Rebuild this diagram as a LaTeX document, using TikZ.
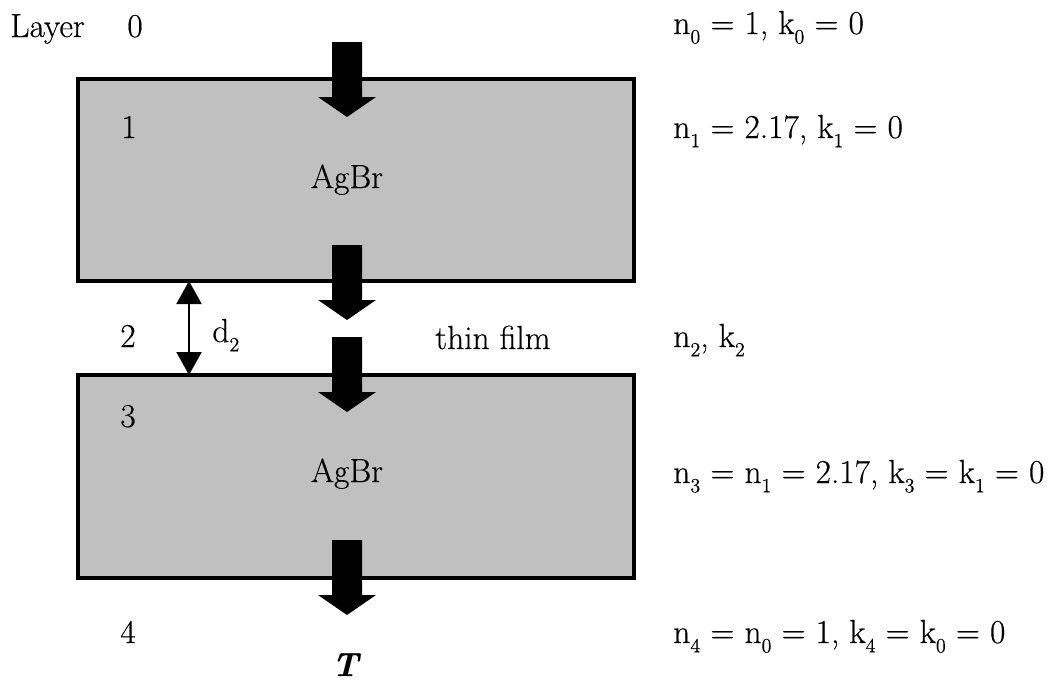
\documentclass[tikz,border=0pt]{standalone}
\usepackage{fontspec}
\newfontfamily\platefont{Latin Modern Roman}[FakeBold=0.4]
\usetikzlibrary{arrows.meta}
\definecolor{slabgray}{RGB}{192,192,192}
\newcommand{\lowr}[1]{\raisebox{-0.28em}{\fontsize{11.5}{12}\selectfont #1}}
\tikzset{
  txt/.style={font=\platefont\fontsize{19}{23}\selectfont,inner sep=0pt,anchor=base west},
  ctxt/.style={txt,anchor=base},
  slab/.style={draw=black,line width=0.8mm,fill=slabgray,inner sep=0pt,outer sep=0pt,
    minimum width=111.2mm,minimum height=#1},
  slab/.default=40.4mm,
  gap/.style={{Triangle[length=4.6mm,width=5mm]}-{Triangle[length=4.6mm,width=5mm]},line width=0.4mm},
  % pictograms
  pics/beam/.style={code={
    \fill[black] (-15,0) -- (15,0) -- (15,55) -- (29,55) -- (0,75) -- (-29,55) -- (-15,55) -- cycle;
  }},
}
\begin{document}
\begin{tikzpicture}[x=0.2mm,y=-0.2mm]
  \useasboundingbox (0,0) rectangle (1053,682);
  % slabs
  \node[slab] (top) at (356,180) {};
  \node[slab=40.6mm] (low) at (356,476.5) {};
  % light path
  \pic at (347,42) {beam};
  \pic at (347,245) {beam};
  \pic at (347,337) {beam};
  \pic at (347,540) {beam};
  \draw[gap] ([xshift=22.2mm]top.south west) -- ([xshift=22.2mm]low.north west);
  % left labels
  \node[txt] (layer) at (10,37) {Layer};
  \node[txt] (l0) at (127,37) {0};
  \node[txt] (l1) at (121,138) {1};
  \node[txt] (l2) at (120,347) {2};
  \node[txt] (l3) at (120,427) {3};
  \node[txt] (l4) at (120,643) {4};
  \node[txt] (d2) at (212,342) {d\lowr{2}};
  \node[ctxt] (ag1) at (347,188) {AgBr};
  \node[ctxt] (ag3) at (347,482) {AgBr};
  \node[txt] (film) at (435,349) {thin film};
  \node[ctxt] (trans) at (345,676) {\bfseries\itshape T};
  % optical constants
  \node[txt] (c0) at (673,34) {n\lowr{0} = 1, k\lowr{0} = 0};
  \node[txt] (c1) at (673,138) {n\lowr{1} = 2.17, k\lowr{1} = 0};
  \node[txt] (c2) at (673,347) {n\lowr{2}, k\lowr{2}};
  \node[txt] (c3) at (673,483) {n\lowr{3} = n\lowr{1} = 2.17, k\lowr{3} = k\lowr{1} = 0};
  \node[txt] (c4) at (673,643) {n\lowr{4} = n\lowr{0} = 1, k\lowr{4} = k\lowr{0} = 0};
\end{tikzpicture}
\end{document}
